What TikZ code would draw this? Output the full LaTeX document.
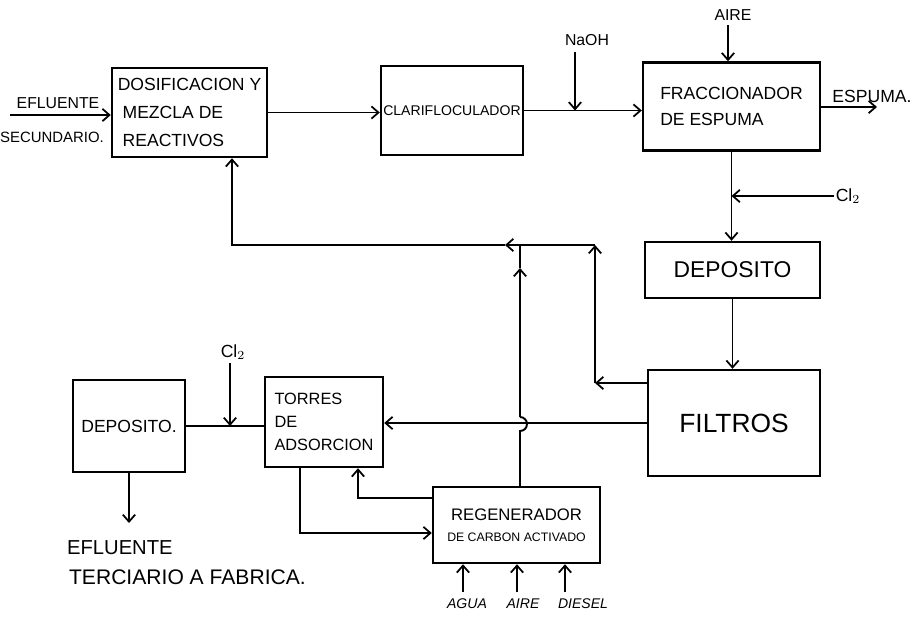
\documentclass[tikz,border=0pt]{standalone}
\usepackage{fontspec}
\setmainfont{Liberation Sans}
\usetikzlibrary{arrows.meta}
\begin{document}
\begin{tikzpicture}[x=0.02cm,y=-0.02cm,
  box/.style={draw,line width=1.4pt,inner sep=2pt},
  flow/.style={line width=1.1pt,-{Straight Barb[length=4pt,width=7pt,line width=1pt]}},
  plain/.style={line width=1.1pt},
  lbl/.style={inner sep=1pt},
  fs/.style={font=\fontsize{#1}{#1}\selectfont}]
\useasboundingbox (0,0) rectangle (923,616);

% boxes
\node[box,minimum width=3.1cm,minimum height=1.78cm,align=left,font=\fontsize{10}{16}\selectfont] (dos) at (189.5,112.5) {DOSIFICACION Y\\\ MEZCLA DE\\\ REACTIVOS};
\node[box,minimum width=2.84cm,minimum height=1.78cm,inner sep=0pt,font=\fontsize{8}{10}\selectfont] (clar) at (452,110.5) {CLARIFLOCULADOR};
\node[box,minimum width=3.54cm,minimum height=1.76cm,align=left,font=\fontsize{10}{15}\selectfont] (frac) at (731.5,106.5) {FRACCIONADOR\\DE ESPUMA};
\node[box,minimum width=3.5cm,minimum height=1.12cm,font=\fontsize{13}{15}\selectfont] (dep1) at (732.5,270) {DEPOSITO};
\node[box,minimum width=3.44cm,minimum height=2.12cm,font=\fontsize{15}{17}\selectfont] (filt) at (734,423) {FILTROS};
\node[box,minimum width=2.36cm,minimum height=1.8cm,align=left,font=\fontsize{9.3}{13}\selectfont] (torr) at (324,422) {TORRES\\DE\\ADSORCION};
\node[box,minimum width=2.24cm,minimum height=1.84cm,font=\fontsize{10}{12}\selectfont] (dep2) at (129,426) {DEPOSITO.};
\node[box,minimum width=3.34cm,minimum height=1.52cm,align=center] (regen) at (516.5,525) {{\fontsize{9.5}{14}\selectfont REGENERADOR}\\{\fontsize{7}{12}\selectfont DE CARBON ACTIVADO}};

% labels
\node[lbl,fs=9] (efl) at (58,103) {EFLUENTE};
\node[lbl,fs=8.5] (sec) at (52,137) {SECUNDARIO.};
\node[lbl,fs=9] (naoh) at (587,40) {NaOH};
\node[lbl,fs=9] (aire) at (733,15) {AIRE};
\node[lbl,fs=10] (esp) at (872,96) {ESPUMA.};
\node[lbl,fs=10] (cla) at (848,196) {Cl$_2$};
\node[lbl,fs=10] (clb) at (233,352) {Cl$_2$};
\node[lbl,fs=11.5,anchor=west] (eft1) at (65,548) {EFLUENTE};
\node[lbl,fs=12,anchor=west] (eft2) at (67,577) {TERCIARIO A FABRICA.};
\node[lbl,font=\fontsize{8}{9}\selectfont\itshape] (agua) at (467,604) {AGUA};
\node[lbl,font=\fontsize{8}{9}\selectfont\itshape] (aireb) at (523,604) {AIRE};
\node[lbl,font=\fontsize{8}{9}\selectfont\itshape] (diesel) at (583,604) {DIESEL};

% coordinates
\coordinate (eflS) at (10,115);
\coordinate (naohT) at (575,52);
\coordinate (aireT) at (728,25);
\coordinate (espE) at (877,107);
\coordinate (r1) at (595,383);
\coordinate (r2) at (595,245);
\coordinate (rm) at (505,245);
\coordinate (r3) at (232,245);
\coordinate (u1) at (520,431);
\coordinate (u1b) at (520,417);
\coordinate (u2) at (520,268);
\coordinate (c2t) at (230,363);
\coordinate (eflT) at (127,523);
\coordinate (t1) at (300,533);
\coordinate (t2) at (358,498);
\coordinate (ia) at (463,592);
\coordinate (ib) at (517,592);
\coordinate (ic) at (565,592);

% main line
\draw[flow] (eflS) -- (eflS -| dos.west);
\draw[flow] (dos.east) -- (dos.east -| clar.west);
\draw[flow] (clar.east) -- (clar.east -| frac.west);
\draw[flow] (naohT) -- (naohT |- clar.east);
\draw[flow] (aireT) -- (aireT |- frac.north);
\draw[flow] (espE -| frac.east) -- (espE);
\draw[flow] (frac.south) -- (frac.south |- dep1.north);
\draw[flow] (cla.west) -- (cla.west -| frac.south);
\draw[flow] (dep1.south) -- (dep1.south |- filt.north);
\draw[flow] (filt.west) -- (filt.west -| torr.east);

% recycle
\draw[flow] (r1 -| filt.west) -- (r1);
\draw[flow] (r1) -- (r2);
\draw[flow] (r2) -- (rm);
\draw[flow] (rm) -- (r3) -- (r3 |- dos.south);

% regenerator up-line with bridge
\draw[plain] (u1 |- regen.north) -- (u1) arc[start angle=-90,end angle=90,radius=0.14cm];
\draw[flow] (u1b) -- (u2);
\draw[plain] (u2) -- (u2 |- r2);

% left part
\draw[flow] (c2t) -- (c2t |- dep2.east);
\draw[plain] (dep2.east) -- (dep2.east -| torr.west);
\draw[flow] (dep2.south) -- (dep2.south |- eflT);
\draw[flow] (t1 |- torr.south) -- (t1) -- (t1 -| regen.west);
\draw[flow] (t2 -| regen.west) -- (t2) -- (t2 |- torr.south);

% regenerator inputs
\draw[flow] (ia) -- (ia |- regen.south);
\draw[flow] (ib) -- (ib |- regen.south);
\draw[flow] (ic) -- (ic |- regen.south);
\end{tikzpicture}
\end{document}
